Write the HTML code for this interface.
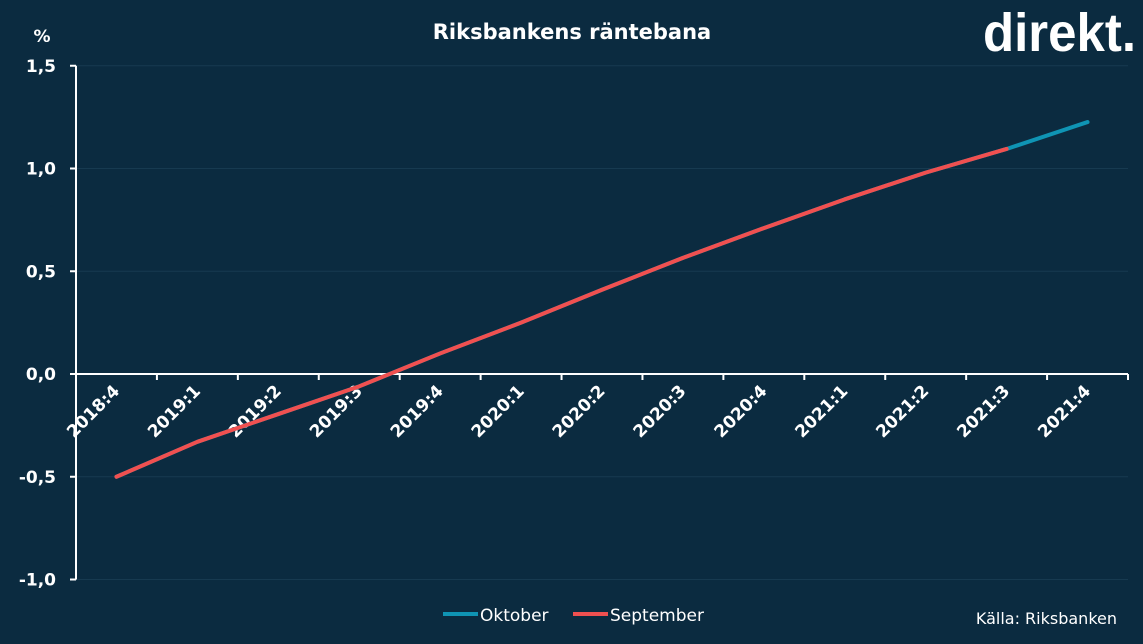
<!DOCTYPE html>
<html><head><meta charset="utf-8"><style>
html,body{margin:0;padding:0;background:#0b2b40;}
svg{display:block;font-family:"DejaVu Sans","Liberation Sans",sans-serif;}
</style></head><body>
<svg id="chart" width="1143" height="644">
<rect x="0" y="0" width="1143" height="644" fill="#0b2b40"/>
<text x="572" y="39" text-anchor="middle" fill="#fff" font-weight="bold" font-size="21">Riksbankens räntebana</text>
<text x="42" y="42" text-anchor="middle" fill="#fff" font-weight="bold" font-size="17">%</text>
<text x="983" y="51" fill="#fff" font-weight="bold" font-size="54" font-family="Liberation Sans Narrow, Liberation Sans, sans-serif" textLength="153" lengthAdjust="spacingAndGlyphs">direkt.</text>
<g id="grid"></g>
<g id="axes"></g>
<g id="series"></g>
<g>
<line x1="443" y1="614" x2="478" y2="614" stroke="#0f94b4" stroke-width="4"/>
<text x="480" y="621" fill="#fff" font-size="17">Oktober</text>
<line x1="573" y1="614" x2="608" y2="614" stroke="#f05050" stroke-width="4"/>
<text x="610" y="621" fill="#fff" font-size="17">September</text>
</g>
<text x="1117" y="624" text-anchor="end" fill="#fff" font-size="16">Källa: Riksbanken</text>
</svg>
<script>
const categories=["2018:4","2019:1","2019:2","2019:3","2019:4","2020:1","2020:2","2020:3","2020:4","2021:1","2021:2","2021:3","2021:4"];
const oktober=[-0.5,-0.33,-0.195,-0.06,0.1,0.25,0.41,0.565,0.71,0.85,0.98,1.095,1.226];
const september=[-0.5,-0.33,-0.195,-0.06,0.1,0.25,0.41,0.565,0.71,0.85,0.98,1.095];
const yTicks=[1.5,1.0,0.5,0.0,-0.5,-1.0];
const yTickLabels=["1,5","1,0","0,5","0,0","-0,5","-1,0"];
const NS="http://www.w3.org/2000/svg";
const x0=76,x1=1128,step=(x1-x0)/categories.length;
function xs(i){return x0+step*(i+0.5);}
function ys(v){return 374-v*205.5;}
function mk(t,a,p){const e=document.createElementNS(NS,t);for(const k in a)e.setAttribute(k,a[k]);p.appendChild(e);return e;}
const grid=document.getElementById('grid'),axes=document.getElementById('axes'),ser=document.getElementById('series');
yTicks.forEach((v,i)=>{
 const g=mk('line',{x1:x0,x2:x1,y1:ys(v),y2:ys(v),stroke:'#173a50','stroke-width':1},grid);
 
 
 const t=mk('line',{x1:x0-6,x2:x0,y1:ys(v),y2:ys(v),stroke:'#fff','stroke-width':2},axes);
 
 
 const l=mk('text',{x:x0-20,y:ys(v)+6,'text-anchor':'end',fill:'#fff','font-weight':'bold','font-size':17},axes);
 l.textContent=yTickLabels[i];
 
 
});
const ya=mk('line',{x1:x0,x2:x0,y1:ys(1.5),y2:ys(-1.0),stroke:'#fff','stroke-width':2},axes);


const xa=mk('line',{x1:x0,x2:x1,y1:ys(0),y2:ys(0),stroke:'#fff','stroke-width':2},axes);


for(let i=0;i<=categories.length;i++){
 const x=x0+step*i;
 const t=mk('line',{x1:x,x2:x,y1:ys(0),y2:ys(0)+6,stroke:'#fff','stroke-width':2},axes);
 
 
}
categories.forEach((c,i)=>{
 const x=xs(i)+4,y=ys(0)+18;
 const l=mk('text',{x:x,y:y,'text-anchor':'end',fill:'#fff','font-weight':'bold','font-size':17,transform:`rotate(-45 ${x} ${y})`},axes);
 l.textContent=c;
 
 
});
function path(vals){return vals.map((v,i)=>(i?'L':'M')+xs(i)+' '+ys(v)).join(' ');}
const po=mk('path',{d:path(oktober),fill:'none',stroke:'#0f94b4','stroke-width':4,'stroke-linecap':'round','stroke-linejoin':'round'},ser);


const ps=mk('path',{d:path(september),fill:'none',stroke:'#f05050','stroke-width':4,'stroke-linecap':'round','stroke-linejoin':'round'},ser);


</script>
</body></html>
